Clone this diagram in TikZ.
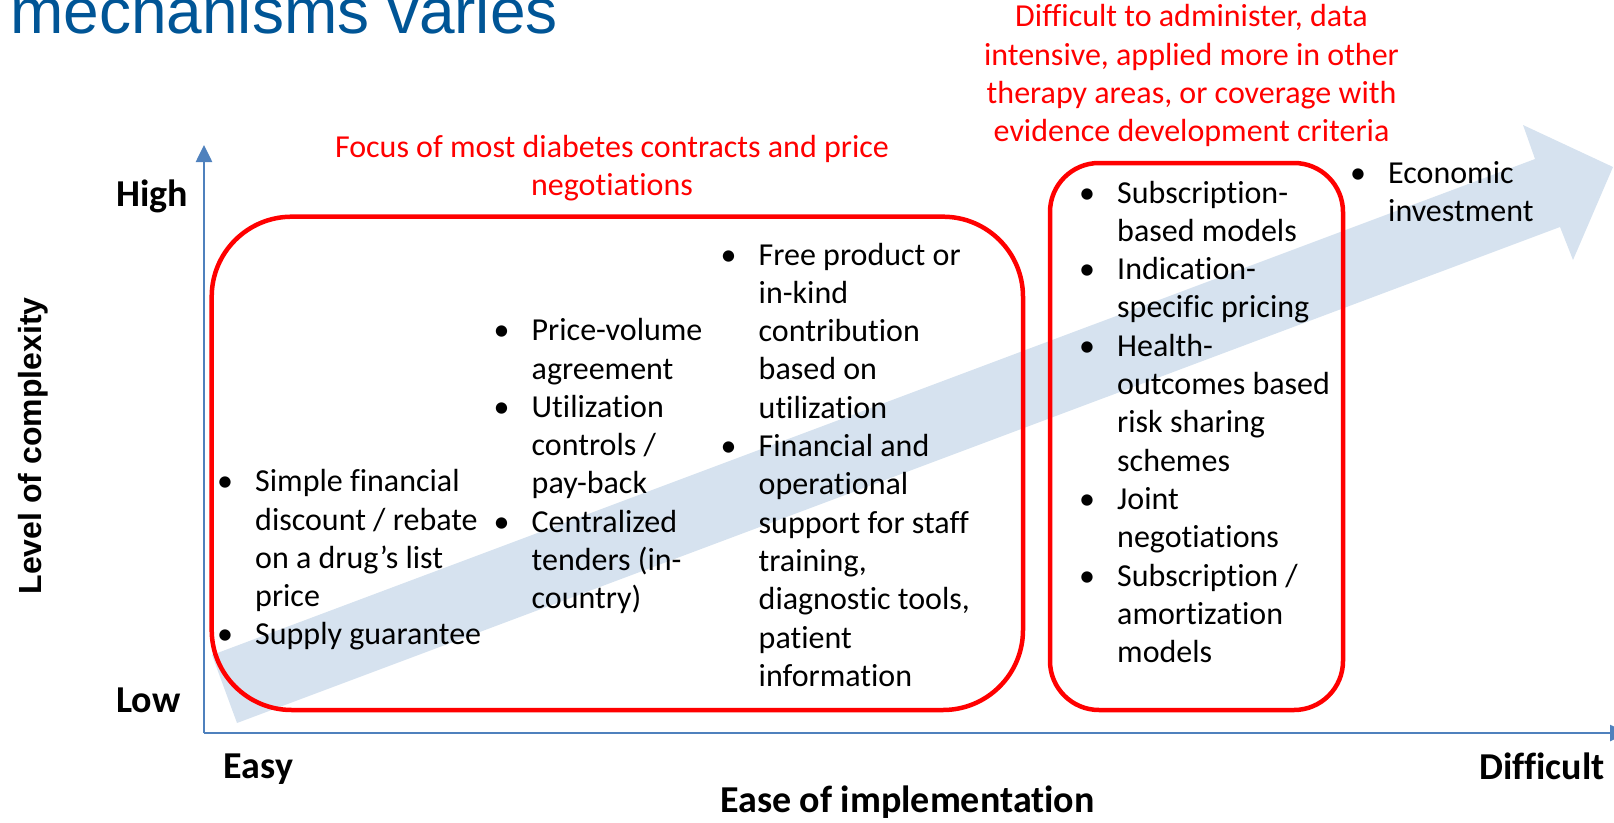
\documentclass[tikz,border=0pt]{standalone}
\usepackage{fontspec}
\usepackage{array}
\setmainfont{Carlito}[Ligatures={NoCommon,NoContextual},RawFeature={-liga;-clig;-dlig}]
\newfontfamily\arialfont{Liberation Sans}
\usetikzlibrary{arrows.meta}
\definecolor{axisblue}{RGB}{79,129,189}
\definecolor{arrowfill}{RGB}{214,226,239}
\definecolor{titleblue}{RGB}{0,85,150}
\definecolor{pptred}{RGB}{255,0,0}
\newcommand{\bodysize}{\fontsize{32}{38.3}\selectfont}
\newcommand{\labelsize}{\fontsize{38}{45}\selectfont\bfseries}
\begin{document}
\begin{tikzpicture}[x=1pt,y=-1pt,
  redbox/.style={draw=pptred, line width=4.5pt, inner sep=0pt},
  axisline/.style={draw=axisblue, line width=2.6pt},
  bodytext/.style={inner sep=0pt, anchor=base west, font=\bodysize, text=black},
  redtext/.style={inner sep=0pt, anchor=base, font=\bodysize, text=pptred},
  boldlabel/.style={inner sep=0pt, anchor=base west, font=\labelsize, text=black}
]
\useasboundingbox (0,0) rectangle (1614,822);

% big light arrow
\fill[arrowfill] (237,723) -- (212,655) -- (1535,159) -- (1523,125) -- (1613,167) -- (1573,260) -- (1560,227) -- cycle;

% axes
\coordinate (O) at (204,733);
\coordinate (ytop) at (204,145);
\coordinate (xend) at (1627,733);
\draw[axisline, -{Triangle[width=16pt,length=17pt]}] (O) -- (ytop);
\draw[axisline, -{Triangle[width=16pt,length=17pt]}] (O) -- (xend);

% red boxes
\node[redbox, rounded corners=80pt, minimum width=811.3pt, minimum height=493.3pt] (box1) at (617.35,463.35) {};
\node[redbox, rounded corners=49pt, minimum width=293pt, minimum height=547pt] (box2) at (1196.5,436.5) {};

% title
\node[inner sep=0pt, anchor=base west, font=\arialfont\fontsize{64}{72}\selectfont, text=titleblue] (title) at (10,33) {mechanisms varies};

% red headings
\node[redtext] (head1) at (612,157) {\begin{tabular}[t]{@{}c@{}}Focus of most diabetes contracts and price\\ negotiations\end{tabular}};
\node[redtext] (head2) at (1191.5,26.7) {\begin{tabular}[t]{@{}c@{}}Difficult to administer, data\\ intensive, applied more in other\\ therapy areas, or coverage with\\ evidence development criteria\end{tabular}};

% columns
\node[bodytext] (col1) at (217,491.7) {\begin{tabular}[t]{@{}p{38pt}@{}l@{}}
\textbullet & Simple financial\\
 & discount / rebate\\
 & on a drug’s list\\
 & price\\
\textbullet & Supply guarantee
\end{tabular}};

\node[bodytext] (col2) at (493.5,340.7) {\begin{tabular}[t]{@{}p{38pt}@{}l@{}}
\textbullet & Price-volume\\
 & agreement\\
\textbullet & Utilization\\
 & controls /\\
 & pay-back\\
\textbullet & Centralized\\
 & tenders (in-\\
 & country)
\end{tabular}};

\node[bodytext] (col3) at (720.5,265) {\begin{tabular}[t]{@{}p{38pt}@{}l@{}}
\textbullet & Free product or\\
 & in-kind\\
 & contribution\\
 & based on\\
 & utilization\\
\textbullet & Financial and\\
 & operational\\
 & support for staff\\
 & training,\\
 & diagnostic tools,\\
 & patient\\
 & information
\end{tabular}};

\node[bodytext] (col4) at (1079,203) {\begin{tabular}[t]{@{}p{38pt}@{}l@{}}
\textbullet & Subscription-\\
 & based models\\
\textbullet & Indication-\\
 & specific pricing\\
\textbullet & Health-\\
 & outcomes based\\
 & risk sharing\\
 & schemes\\
\textbullet & Joint\\
 & negotiations\\
\textbullet & Subscription /\\
 & amortization\\
 & models
\end{tabular}};

\node[bodytext] (col5) at (1350,183) {\begin{tabular}[t]{@{}p{38pt}@{}l@{}}
\textbullet & Economic\\
 & investment
\end{tabular}};

% axis labels
\node[boldlabel] (high) at (116,206) {High};
\node[boldlabel] (low) at (116,712) {Low};
\node[boldlabel] (easy) at (223.5,778) {Easy};
\node[boldlabel] (difficult) at (1479,779) {Difficult};
\node[inner sep=0pt, anchor=base, font=\labelsize, text=black] (xlabel) at (907.5,812) {Ease of implementation};
\node[inner sep=0pt, anchor=base, rotate=90, font=\arialfont\fontsize{32}{38}\selectfont\bfseries, text=black] (ylabel) at (41,446) {Level of complexity};
\end{tikzpicture}
\end{document}
